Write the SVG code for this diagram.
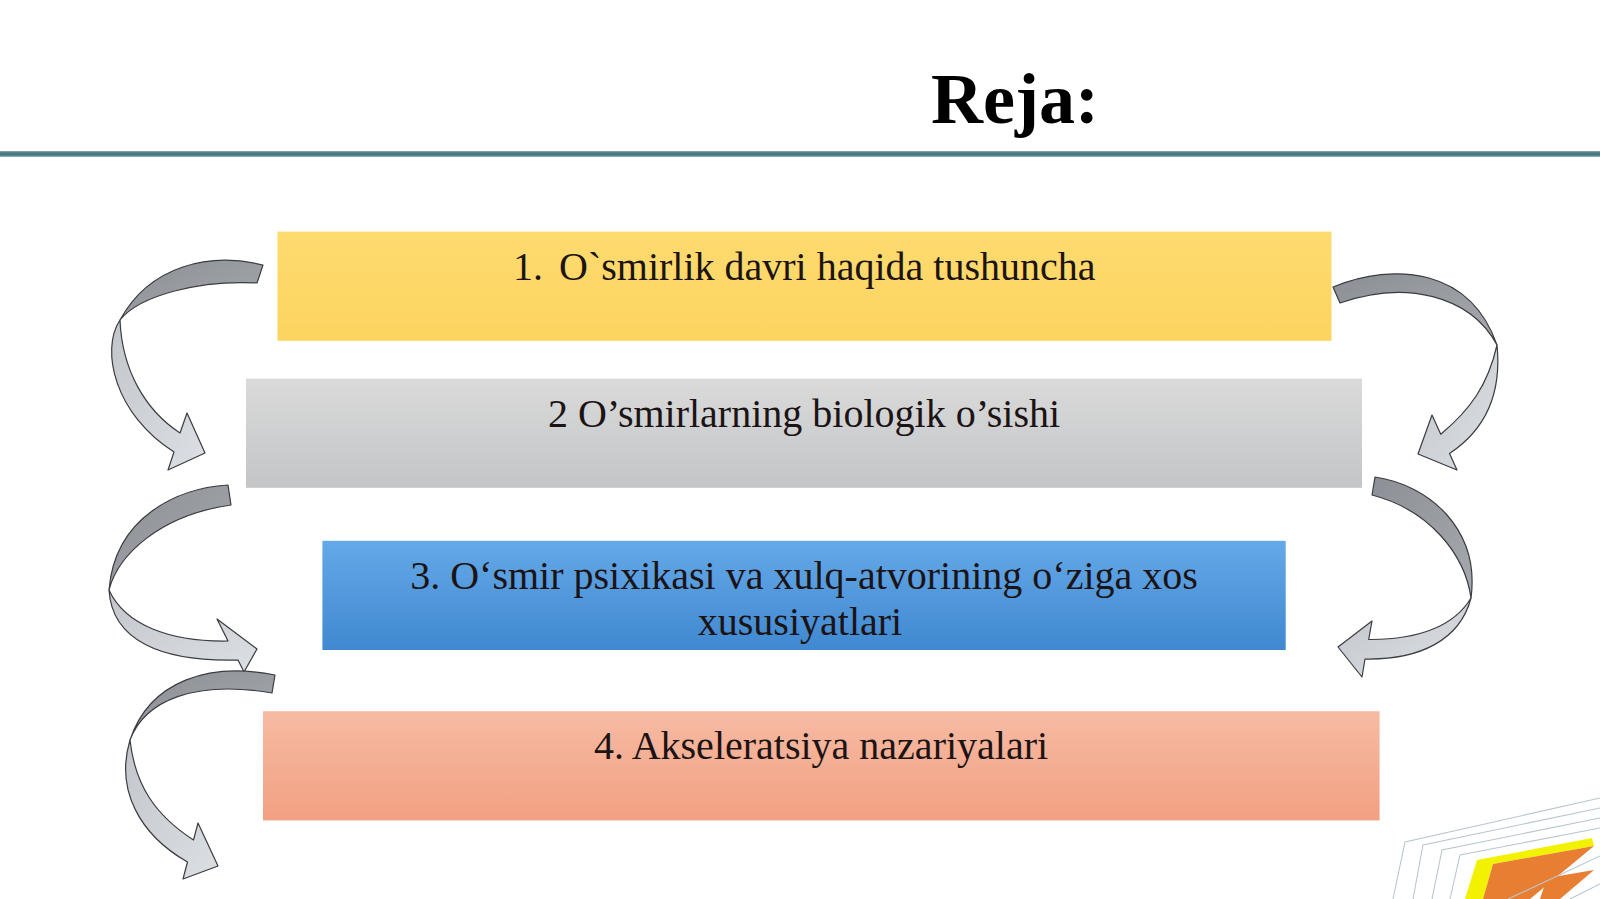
<svg xmlns="http://www.w3.org/2000/svg" width="1600" height="899" viewBox="0 0 1600 899">
  <defs>
    <linearGradient id="gYellow" x1="0" y1="0" x2="0" y2="1">
      <stop offset="0" stop-color="#FEDB70"/>
      <stop offset="1" stop-color="#FCD45F"/>
    </linearGradient>
    <linearGradient id="gGray" x1="0" y1="0" x2="0" y2="1">
      <stop offset="0" stop-color="#DADADA"/>
      <stop offset="1" stop-color="#C3C5C7"/>
    </linearGradient>
    <linearGradient id="gBlue" x1="0" y1="0" x2="0" y2="1">
      <stop offset="0" stop-color="#64A9E8"/>
      <stop offset="1" stop-color="#4088D0"/>
    </linearGradient>
    <linearGradient id="gSalmon" x1="0" y1="0" x2="0" y2="1">
      <stop offset="0" stop-color="#F6BBA3"/>
      <stop offset="1" stop-color="#F2A082"/>
    </linearGradient>
    <linearGradient id="gDark" x1="0" y1="0" x2="1" y2="1">
      <stop offset="0" stop-color="#8C8F95"/>
      <stop offset="1" stop-color="#A6A9AE"/>
    </linearGradient>
    <linearGradient id="gLight" x1="0" y1="0" x2="1" y2="1">
      <stop offset="0" stop-color="#C2C5CB"/>
      <stop offset="1" stop-color="#DCDFE3"/>
    </linearGradient>
    <linearGradient id="gHeader" x1="0" y1="0" x2="0" y2="1">
      <stop offset="0" stop-color="#8FB0B4"/>
      <stop offset="0.3" stop-color="#4A7A80"/>
      <stop offset="0.7" stop-color="#4A7A80"/>
      <stop offset="1" stop-color="#9FC0C4"/>
    </linearGradient>
  </defs>
  <style>
    .lbl { font-family: "Liberation Serif", "Times New Roman", serif; font-size: 40px; fill: #1C1414; }
    .title { font-family: "Liberation Serif", "Times New Roman", serif; font-size: 72px; font-weight: bold; fill: #000; }
    .dark { fill: url(#gDark); stroke: #3A3C40; stroke-width: 1.2; stroke-linejoin: round; }
    .light { fill: url(#gLight); stroke: #3A3C40; stroke-width: 1.2; stroke-linejoin: round; }
    .deco { fill: none; stroke: #B9C6CE; stroke-width: 1.1; }
  </style>

  <rect x="0" y="0" width="1600" height="899" fill="#FFFFFF"/>

  <g id="header">
    <text class="title" x="931" y="123">Reja:</text>
    <rect x="0" y="151" width="1600" height="6" fill="url(#gHeader)"/>
  </g>

  <g id="node1">
    <rect x="277.5" y="231.6" width="1054" height="109.2" fill="url(#gYellow)"/>
    <text class="lbl" y="280"><tspan x="513">1.</tspan><tspan x="559">O`smirlik davri haqida tushuncha</tspan></text>
  </g>
  <g id="node2">
    <rect x="246" y="378.6" width="1116" height="109.2" fill="url(#gGray)"/>
    <text class="lbl" x="804" y="427" text-anchor="middle">2 O’smirlarning biologik o’sishi</text>
  </g>
  <g id="node3">
    <rect x="322.4" y="540.8" width="963.3" height="109.2" fill="url(#gBlue)"/>
    <text class="lbl" x="804" y="589" text-anchor="middle">3. O‘smir psixikasi va xulq-atvorining o‘ziga xos</text>
    <text class="lbl" x="800" y="635" text-anchor="middle">xususiyatlari</text>
  </g>
  <g id="node4">
    <rect x="263" y="711.2" width="1116.6" height="109.2" fill="url(#gSalmon)"/>
    <text class="lbl" x="821" y="759" text-anchor="middle">4. Akseleratsiya nazariyalari</text>
  </g>

  <g id="connectors">
    <!-- left: 1 -> 2 -->
    <path class="dark" d="M263,265 C210,252 150,265 120,320 C140,295 200,280 257,283 Z"/>
    <path class="light" d="M120,320 C100,350 115,415 174,452 L168,470 L205,453 L187,413 L180,433 C145,410 122,370 120,320 Z"/>
    <!-- left: 2 -> 3 -->
    <path class="dark" d="M228,485 C180,488 115,515 109,590 C118,555 160,515 231,505 Z"/>
    <path class="light" d="M109,590 C112,640 160,662 238,660 L244,672 L257,649 L217,619 L228,641 C170,642 125,625 109,590 Z"/>
    <!-- left: 3 -> 4 -->
    <path class="dark" d="M275,675 C210,662 150,680 130,740 C145,700 195,680 272,693 Z"/>
    <path class="light" d="M130,740 C115,790 140,835 187.5,862 L183,879 L218,866 L198,823 L193.5,840 C155,815 135,785 130,740 Z"/>
    <!-- right: 1 -> 2 -->
    <path class="dark" d="M1333,287 C1395,262 1470,268 1497,345 C1470,295 1405,280 1340,303 Z"/>
    <path class="light" d="M1497,345 C1502,395 1485,430 1449.5,453.5 L1457,470 L1418,454 L1432,415 L1440.75,434.25 C1470,410 1488,385 1497,345 Z"/>
    <!-- right: 2 -> 3 -->
    <path class="dark" d="M1375,477 C1430,485 1480,530 1471,598 C1465,555 1430,510 1372,495 Z"/>
    <path class="light" d="M1471,598 C1460,640 1420,660 1365,659 L1362,677 L1338,647 L1372,621 L1368.7,639.5 C1420,640 1455,625 1471,598 Z"/>
  </g>

  <g id="corner-decoration">
    <polyline class="deco" points="1393,899 1405,842 1600,798"/>
    <polyline class="deco" points="1413,899 1423,845 1600,808"/>
    <polyline class="deco" points="1432,899 1442,850 1600,818"/>
    <polyline class="deco" points="1450,899 1460,855 1600,828"/>
    <polygon points="1477,860 1592,838 1594,846 1493,864 1483,899 1465,899" fill="#F2F200"/>
    <polygon points="1493,864 1594,846 1530,899 1483,899" fill="#E87E32"/>
    <polygon points="1547,878 1594,870 1560,899 1540,899" fill="#E87E32"/>
    <polyline class="deco" points="1508,899 1600,856"/>
    <polyline class="deco" points="1570,899 1600,884"/>
  </g>
</svg>
